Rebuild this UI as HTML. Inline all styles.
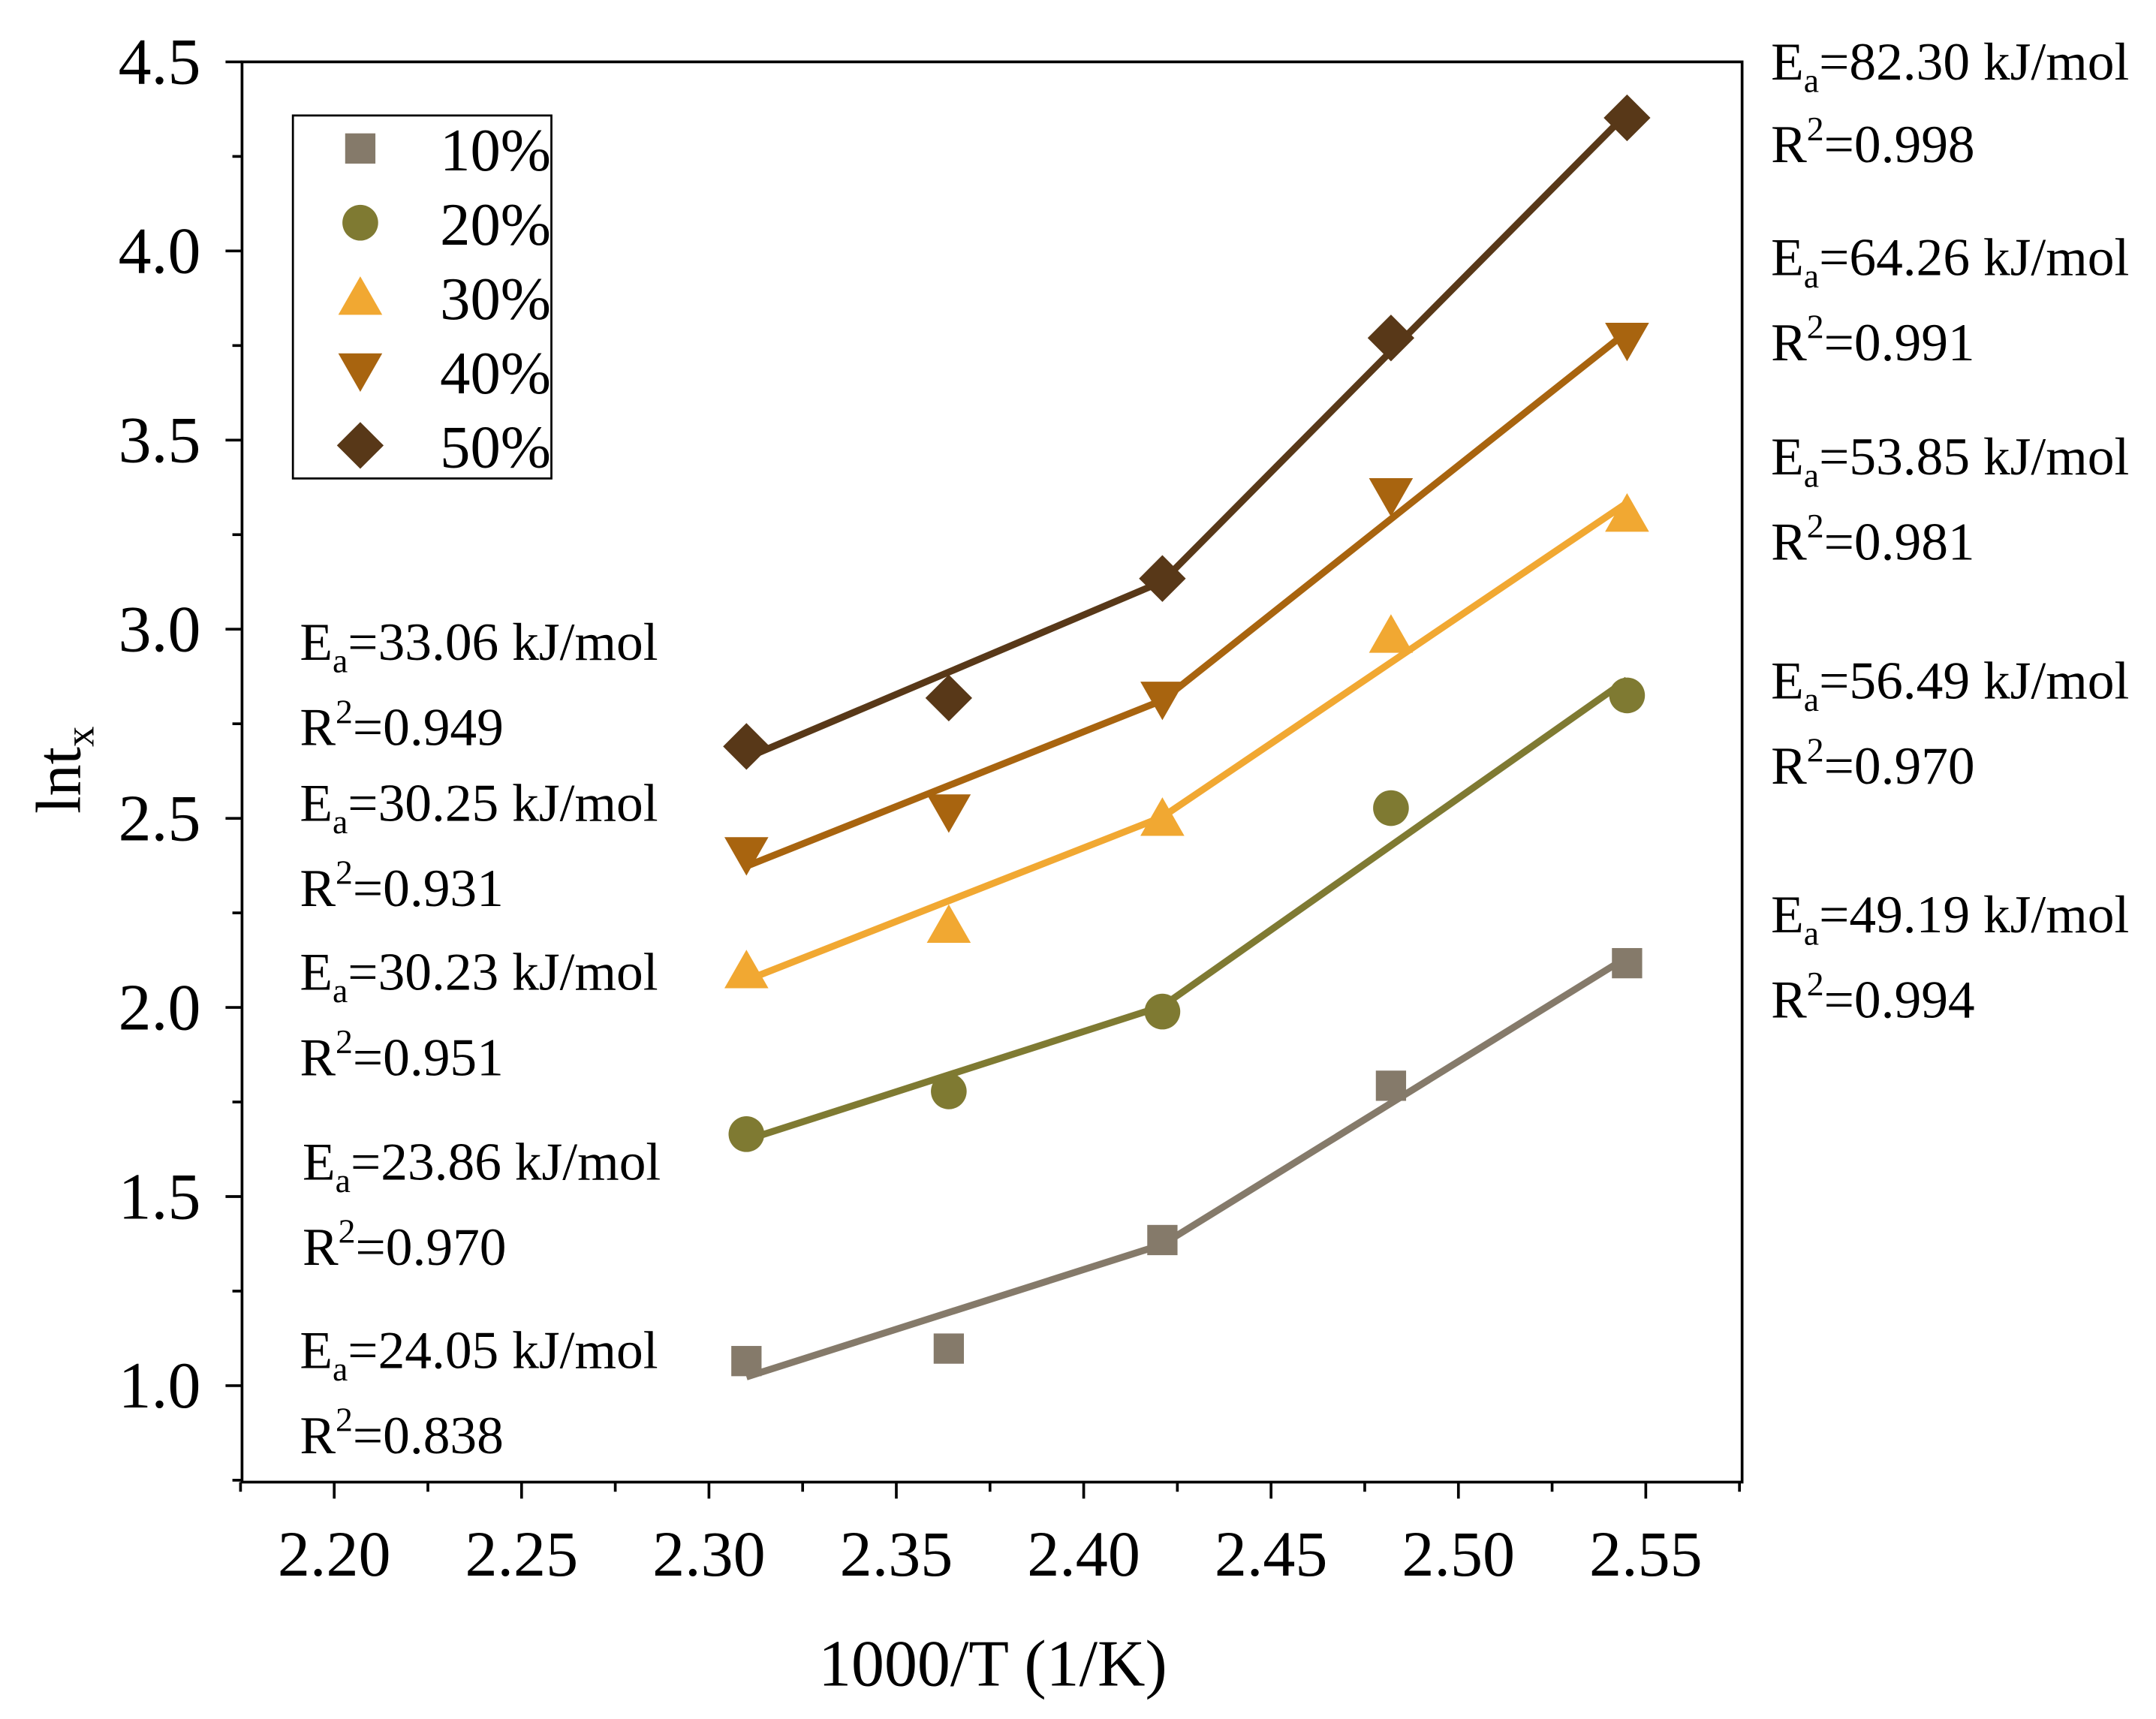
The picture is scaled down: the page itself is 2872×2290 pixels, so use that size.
<!DOCTYPE html>
<html><head><meta charset="utf-8"><style>
html,body{margin:0;padding:0;background:#fff;}
svg{display:block;font-family:"Liberation Serif",serif;}
</style></head><body>
<svg id="chart" width="2872" height="2290" viewBox="0 0 1568 1250.3" xmlns="http://www.w3.org/2000/svg">
<g id="axes"></g>
<g id="series"></g>
<g id="legend"></g>
<g id="notes"></g>
</svg>
<script>
const xValues = [2.31, 2.364, 2.421, 2.482, 2.545];
const seriesNames = ["10%", "20%", "30%", "40%", "50%"];
const s10 = [1.065, 1.098, 1.385, 1.793, 2.117];
const s20 = [1.665, 1.778, 1.989, 2.527, 2.825];
const s30 = [2.098, 2.218, 2.501, 2.985, 3.305];
const s40 = [2.403, 2.516, 2.814, 3.352, 3.763];
const s50 = [2.690, 2.818, 3.134, 3.770, 4.352];
const xTicks = [2.20, 2.25, 2.30, 2.35, 2.40, 2.45, 2.50, 2.55];
const yTicks = [1.0, 1.5, 2.0, 2.5, 3.0, 3.5, 4.0, 4.5];
const rightNotes = [["82.30","0.998"],["64.26","0.991"],["53.85","0.981"],["56.49","0.970"],["49.19","0.994"]];
const leftNotes = [["33.06","0.949"],["30.25","0.931"],["30.23","0.951"],["23.86","0.970"],["24.05","0.838"]];

const NS="http://www.w3.org/2000/svg";
const L=176,R=1267,T=45,B=1078;
const xMin=2.1754,xMax=2.5757,yMin=0.745,yMax=4.5;
const X=v=>L+(v-xMin)/(xMax-xMin)*(R-L);
const Y=v=>B-(v-yMin)/(yMax-yMin)*(B-T);
function mk(tag,attrs,parent,text){const e=document.createElementNS(NS,tag);for(const k in attrs)e.setAttribute(k,attrs[k]);if(text!==undefined)e.textContent=text;parent.appendChild(e);return e;}
const axes=document.getElementById('axes');
let frame=mk('rect',{x:L,y:T,width:R-L,height:B-T,fill:'none',stroke:'#000','stroke-width':2},axes);


xTicks.forEach(v=>{
  const t=mk('line',{x1:X(v),x2:X(v),y1:B,y2:B+12,stroke:'#000','stroke-width':2},axes);
  
  
  const m=mk('line',{x1:X(v-0.025),x2:X(v-0.025),y1:B,y2:B+7,stroke:'#000','stroke-width':2},axes);
  
  
  const lb=mk('text',{x:X(v),y:1146,'font-size':47,'text-anchor':'middle'},axes,v.toFixed(2));
  
  
});
{const m=mk('line',{x1:X(2.575),x2:X(2.575),y1:B,y2:B+7,stroke:'#000','stroke-width':2},axes);}
yTicks.forEach(v=>{
  const t=mk('line',{x1:L-12,x2:L,y1:Y(v),y2:Y(v),stroke:'#000','stroke-width':2},axes);
  
  
  const m=mk('line',{x1:L-7,x2:L,y1:Y(v-0.25),y2:Y(v-0.25),stroke:'#000','stroke-width':2},axes);
  
  
  const lb=mk('text',{x:146,y:Y(v)+16,'font-size':48,'text-anchor':'end'},axes,v.toFixed(1));
  
  
});
const xt=mk('text',{x:722,y:1226,'font-size':48,'text-anchor':'middle'},axes,'1000/T (1/K)');


const yt=mk('text',{x:0,y:0,'font-size':46,'text-anchor':'middle',transform:'translate(58,560) rotate(-90)'},axes);


mk('tspan',{},yt,'lnt');mk('tspan',{dy:10,'font-size':30},yt,'x');

const colors=['#857a6a','#7f7a32','#f1a832','#a8640f','#583818'];
const shapes=['square','circle','up','down','diamond'];
const all=[s10,s20,s30,s40,s50];
function marker(shape,cx,cy,c,parent,s){
  s=s||1;let e;
  if(shape==='square')e=mk('rect',{x:cx-11*s,y:cy-11*s,width:22*s,height:22*s,fill:c},parent);
  else if(shape==='circle')e=mk('circle',{cx:cx,cy:cy,r:13*s,fill:c},parent);
  else if(shape==='up')e=mk('polygon',{points:`${cx},${cy-15*s} ${cx+16*s},${cy+13*s} ${cx-16*s},${cy+13*s}`,fill:c},parent);
  else if(shape==='down')e=mk('polygon',{points:`${cx},${cy+15*s} ${cx+16*s},${cy-13*s} ${cx-16*s},${cy-13*s}`,fill:c},parent);
  else e=mk('polygon',{points:`${cx},${cy-17*s} ${cx+17*s},${cy} ${cx},${cy+17*s} ${cx-17*s},${cy}`,fill:c},parent);
  return e;
}
function fit(xs,ys){const n=xs.length;const mx=xs.reduce((a,b)=>a+b)/n,my=ys.reduce((a,b)=>a+b)/n;let sxy=0,sxx=0;for(let i=0;i<n;i++){sxy+=(xs[i]-mx)*(ys[i]-my);sxx+=(xs[i]-mx)**2;}const b=sxy/sxx;return x=>my+b*(x-mx);}
const sg=document.getElementById('series');
all.forEach((ys,si)=>{
  const g=mk('g',{},sg);
  
  
  const f1=fit(xValues.slice(0,3),ys.slice(0,3)),f2=fit(xValues.slice(2),ys.slice(2));
  const xa=xValues[0],xb=xValues[2],xc=xValues[4];
  const l=mk('polyline',{points:`${X(xa)},${Y(f1(xa))} ${X(xb)},${Y((f1(xb)+f2(xb))/2)} ${X(xc)},${Y(f2(xc))}`,fill:'none',stroke:colors[si],'stroke-width':5},g);
  
  
  ys.forEach((v,i)=>{
    const m=marker(shapes[si],X(xValues[i]),Y(v),colors[si],g);
    
    
  });
});
const lg=document.getElementById('legend');
const box=mk('rect',{x:213,y:84,width:188,height:264,fill:'#fff',stroke:'#000','stroke-width':1.5},lg);


seriesNames.forEach((n,i)=>{
  const g=mk('g',{},lg);
  
  
  marker(shapes[i],262,108+54*i,colors[i],g);
  mk('text',{x:320,y:124+54*i,'font-size':44},g,n);
});
const ng=document.getElementById('notes');
function note(x,y1,y2,ea,r2){
  const g=mk('g',{},ng);
  
  
  const t1=mk('text',{x:x,y:y1,'font-size':39},g);
  mk('tspan',{},t1,'E');mk('tspan',{dy:9,'font-size':25},t1,'a');mk('tspan',{dy:-9},t1,'='+ea+' kJ/mol');
  const t2=mk('text',{x:x,y:y2,'font-size':39},g);
  mk('tspan',{},t2,'R');mk('tspan',{dy:-16,'font-size':25},t2,'2');mk('tspan',{dy:16},t2,'='+r2);
}
const rY=[[58,118],[200,262],[345,407],[508,570],[678,740]];
rightNotes.forEach((n,i)=>note(1288,rY[i][0],rY[i][1],n[0],n[1]));
const lY=[[480,542,218],[597,659,218],[720,782,218],[858,920,220],[995,1057,218]];
leftNotes.forEach((n,i)=>note(lY[i][2],lY[i][0],lY[i][1],n[0],n[1]));
</script>
</body></html>
